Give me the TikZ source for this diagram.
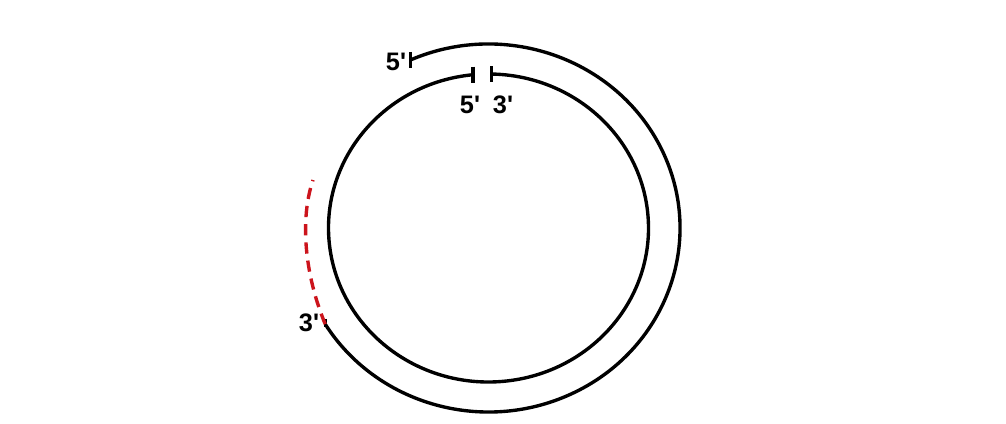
\documentclass[tikz,border=0pt]{standalone}
\usepackage{fontspec}
\setmainfont{Liberation Sans}
\definecolor{strandred}{RGB}{204,20,28}
\begin{document}
\begin{tikzpicture}[x=0.025cm,y=0.025cm,
  strand/.style={line width=2.4pt,black},
  tickbar/.style={line width=2.4pt,black},
  newstrand/.style={line width=2.4pt,strandred,dash pattern=on 8pt off 5pt},
  lab/.style={font=\fontsize{18}{21}\selectfont\bfseries,inner sep=0pt}]
\fill[white] (0,0) rectangle (1006,423);
\useasboundingbox (0,0) rectangle (1006,423);
\coordinate (c) at (488.5,195);
% outer strand
\draw[strand] (c) ++(114:191.5 and 184) coordinate (o5)
  arc[start angle=114, end angle=-148.5, x radius=191.5, y radius=184] coordinate (o3);
% inner strand
\draw[strand] (c) ++(95.6:160 and 154) coordinate (i5)
  arc[start angle=95.6, end angle=449, x radius=160, y radius=154] coordinate (i3);
% end bars
\draw[tickbar] ([yshift=0.2cm]o5) -- ([yshift=-0.2cm]o5);
\draw[tickbar] ([yshift=0.2cm]i5) -- ([yshift=-0.2cm]i5);
\draw[tickbar] ([yshift=0.2cm]i3) -- ([yshift=-0.2cm]i3);
\draw[tickbar] ([yshift=0.13cm]o3) -- ([yshift=-0.08cm]o3);
% new red strand
\coordinate (r1) at (313,243);
\draw[newstrand] (o3) .. controls (304,150) and (300,205) .. (r1);
% labels
\node[lab] (l5o) at (396,361) {5\textquotesingle};
\node[lab] (l5i) at (470,318) {5\textquotesingle};
\node[lab] (l3i) at (503,318) {3\textquotesingle};
\node[lab] (l3o) at (309,100) {3\textquotesingle};
\end{tikzpicture}
\end{document}
